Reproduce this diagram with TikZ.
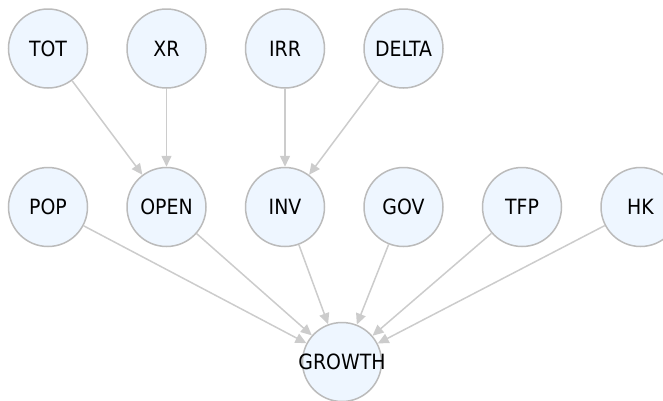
\documentclass[tikz,border=0pt]{standalone}
\usepackage{fontspec}
\setmainfont{DejaVu Sans Condensed}
\usetikzlibrary{arrows.meta, positioning}

\definecolor{varfill}{HTML}{EEF6FF}
\definecolor{varline}{HTML}{BBBBBB}
\definecolor{linkline}{HTML}{CCCCCC}

\begin{document}
\begin{tikzpicture}[
    x=1pt, y=-1pt,
    >={Triangle[length=11pt, width=10pt]},
    font=\fontsize{21}{24}\selectfont,
    node distance=78pt and 38pt,
    var/.style={circle, draw=varline, fill=varfill, line width=1.5pt,
                minimum size=79pt, inner sep=0pt},
    link/.style={->, draw=linkline, fill=linkline, line width=1.5pt}
  ]
    \useasboundingbox (0,0) rectangle (663,400);

    % direct determinants
    \node[var] (pop) at (48,207)    {POP};
    \node[var, right=of pop]  (open) {OPEN};
    \node[var, right=of open] (inv)  {INV};
    \node[var, right=of inv]  (gov)  {GOV};
    \node[var, right=of gov]  (tfp)  {TFP};
    \node[var, right=of tfp]  (hk)   {HK};

    % second-level drivers
    \node[var, above=of open] (xr)    {XR};
    \node[var, left=of xr]    (tot)   {TOT};
    \node[var, above=of inv]  (irr)   {IRR};
    \node[var, right=of irr]  (delta) {DELTA};

    \node[var] (growth) at (342,362) {\makebox[0pt]{GROWTH}};

    \draw[link] (tot)   -- (open);
    \draw[link] (xr)    -- (open);
    \draw[link] (irr)   -- (inv);
    \draw[link] (delta) -- (inv);

    \foreach \src in {pop, open, inv, gov, tfp, hk}
        \draw[link] (\src) -- (growth);
  \end{tikzpicture}
\end{document}
